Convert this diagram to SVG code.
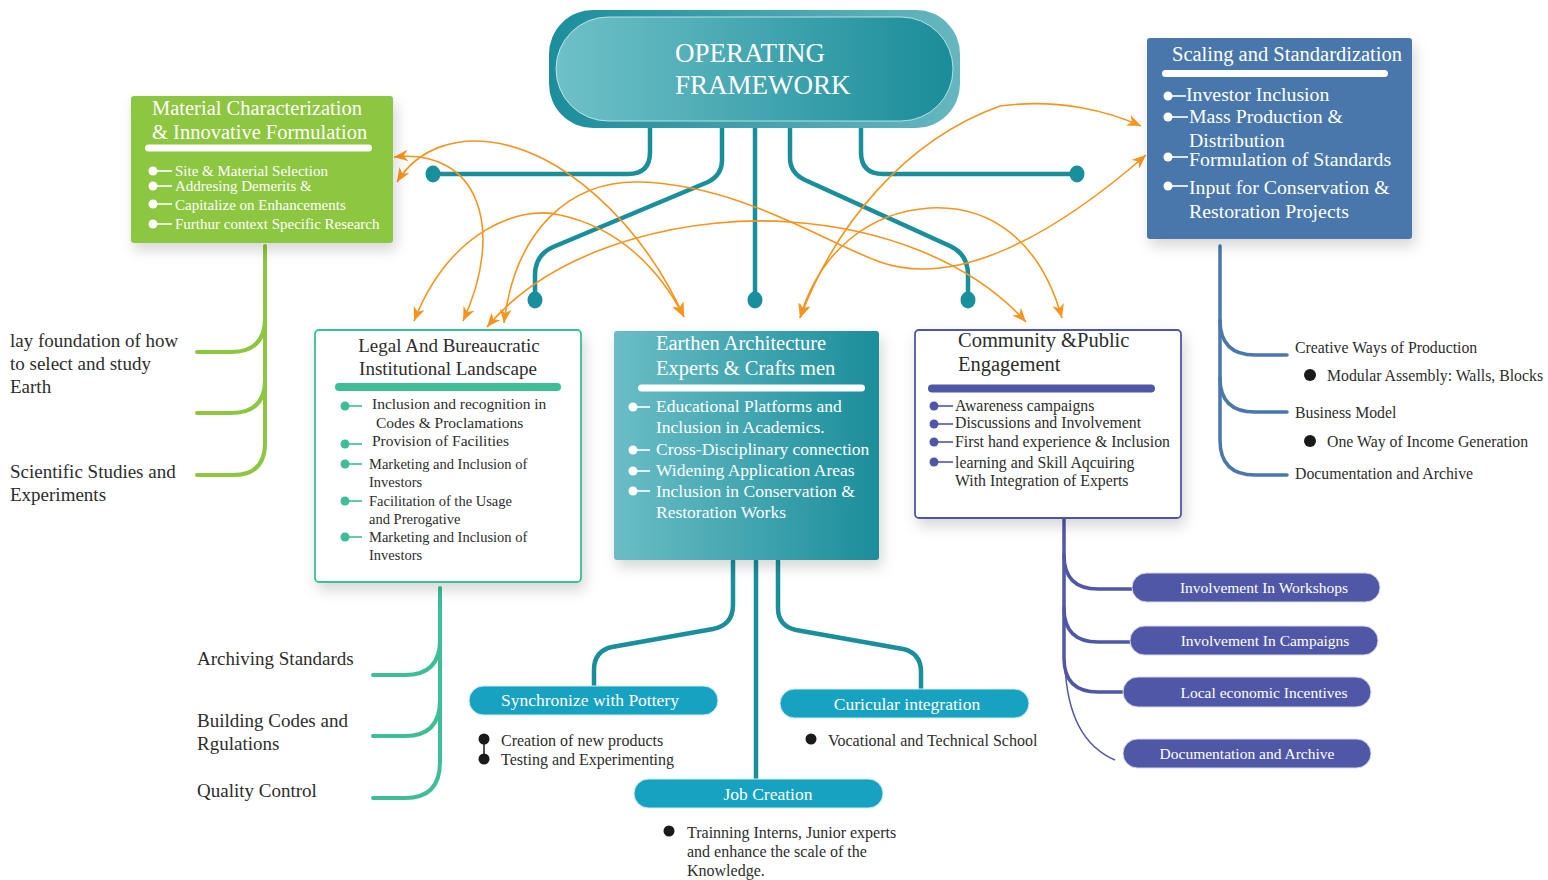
<svg xmlns="http://www.w3.org/2000/svg" width="1548" height="880" viewBox="0 0 1548 880">
<defs>
<linearGradient id="outerG" x1="0" y1="0" x2="1" y2="0"><stop offset="0" stop-color="#1C8E9B"/><stop offset="1" stop-color="#66B6BF"/></linearGradient>
<linearGradient id="innerG" x1="0" y1="0" x2="1" y2="0"><stop offset="0" stop-color="#6FC0C8"/><stop offset="1" stop-color="#1A8D99"/></linearGradient>
<linearGradient id="earthG" x1="0" y1="0" x2="1" y2="0"><stop offset="0" stop-color="#6BBDC6"/><stop offset="1" stop-color="#1B8E9A"/></linearGradient>
<filter id="sh" x="-10%" y="-10%" width="125%" height="140%"><feDropShadow dx="3" dy="7" stdDeviation="7" flood-color="#000" flood-opacity="0.16"/></filter>
<marker id="ah" viewBox="0 0 12 10" refX="12" refY="5" markerWidth="14" markerHeight="12" markerUnits="userSpaceOnUse" orient="auto-start-reverse"><path d="M0,0 L12,5 L0,10 L3.5,5 z" fill="#F7941E"/></marker>
</defs>
<style>
text{font-family:"Liberation Serif","Times New Roman",serif}
.w{fill:#ffffff}
.d{fill:#2d2d2d}
.teal{fill:none;stroke:#1A8F9C;stroke-width:4.5;stroke-linecap:round;stroke-linejoin:round}
.tdot{fill:#1A8F9C}
.grn{fill:none;stroke:#8DC63F;stroke-width:4;stroke-linecap:round}
.blu{fill:none;stroke:#4A77AC;stroke-width:3.5;stroke-linecap:round}
.lg{fill:none;stroke:#3DBD98;stroke-width:4;stroke-linecap:round}
.ind{fill:none;stroke:#4F57A6;stroke-width:3.5;stroke-linecap:round}
.org{fill:none;stroke:#F7941E;stroke-width:1.6;marker-start:url(#ah);marker-end:url(#ah)}
.wdash{stroke:#ffffff;stroke-width:1.6}
.gdash{stroke:#3DBD98;stroke-width:1.6}
.idash{stroke:#4F57A6;stroke-width:1.6}
.cyp{fill:#17A2C2;stroke:#cfeef5;stroke-width:1}
.inp{fill:#4F57A6;stroke:#d6d9ee;stroke-width:1}
.t15{font-size:15px}
.t16{font-size:16px}
.t175{font-size:17.5px}
.t19{font-size:19px}
.t20{font-size:20.5px}
</style>

<g id="connectors">
<path class="teal" d="M650,120 V152 Q650,174 628,174 H433"/>
<path class="teal" d="M722,120 V160 Q722,175 708,182 L553,247 Q535,255 535,275 V300"/>
<path class="teal" d="M755,120 V300"/>
<path class="teal" d="M790,120 V158 Q790,173 805,180 L950,246 Q968,254 968,275 V300"/>
<path class="teal" d="M861,120 V152 Q861,174 883,174 H1077"/>
<ellipse class="tdot" cx="433" cy="174" rx="7.5" ry="8.5"/>
<ellipse class="tdot" cx="1077" cy="174" rx="7.5" ry="8.5"/>
<ellipse class="tdot" cx="535" cy="300" rx="7.5" ry="8.5"/>
<ellipse class="tdot" cx="755" cy="300" rx="7.5" ry="8.5"/>
<ellipse class="tdot" cx="968" cy="300" rx="7.5" ry="8.5"/>
<path class="grn" d="M265,246 V443 Q265,475 233,475 H197"/>
<path class="grn" d="M265,318 Q265,352 231,352 H197"/>
<path class="grn" d="M265,380 Q265,413 231,413 H197"/>
<path class="blu" d="M1220,246 V440 Q1220,475 1255,475 H1287"/>
<path class="blu" d="M1220,320 Q1220,355 1255,355 H1287"/>
<path class="blu" d="M1220,378 Q1220,412 1255,412 H1287"/>
<path class="lg" d="M440,588 V762 Q440,798 405,798 H373"/>
<path class="lg" d="M440,640 Q440,675 405,675 H373"/>
<path class="lg" d="M440,700 Q440,736 405,736 H373"/>
<path class="ind" d="M1064,518 V658 Q1064,692 1098,692 H1123"/>
<path class="ind" d="M1064,555 Q1064,589 1098,589 H1132"/>
<path class="ind" d="M1064,608 Q1064,642 1098,642 H1130"/>
<path fill="none" stroke="#4F57A6" stroke-width="1.5" d="M1065,665 Q1068,740 1115,760"/>
<path class="teal" d="M733,561 V605 Q733,625 713,629 L612,647 Q594,651 594,670 V687"/>
<path class="teal" d="M756,561 V779"/>
<path class="teal" d="M778,561 V608 Q778,626 796,630 L903,649 Q921,653 921,672 V689"/>
<path class="org" d="M394,157 C480,148 505,230 463,321"/>
<path class="org" d="M397,182 C420,145 460,138 490,142 C560,150 640,220 684,317"/>
<path class="org" d="M414,321 C450,230 520,205 560,215 C620,228 660,270 684,317"/>
<path class="org" d="M504,323 C515,230 570,180 640,182 C740,185 820,240 880,262 C960,290 1060,230 1146,155"/>
<path class="org" d="M487,327 C560,240 700,215 790,222 C880,228 970,260 1026,322"/>
<path class="org" d="M800,318 C835,225 905,140 1000,106 C1060,98 1110,112 1141,126"/>
<path class="org" d="M1062,318 C1040,240 990,205 930,208 C870,212 820,250 800,318"/>
</g>

<g id="framework">
<rect x="549" y="10" width="411" height="118" rx="44" fill="url(#outerG)"/>
<rect x="556" y="17" width="397" height="104" rx="52" fill="url(#innerG)" stroke="#d8eef0" stroke-opacity="0.8" stroke-width="1"/>
<text class="w" x="675" y="62" font-size="27">OPERATING</text>
<text class="w" x="675" y="94" font-size="27">FRAMEWORK</text>
</g>

<g id="material">
<rect x="131" y="96" width="262" height="147" rx="3" fill="#8DC63F" filter="url(#sh)"/>
<text class="w t20" x="152" y="115">Material Characterization</text>
<text class="w t20" x="152" y="139">&amp; Innovative Formulation</text>
<rect x="145" y="144.5" width="227" height="7" rx="3.5" fill="#fff"/>
<g class="w t15">
<circle cx="153" cy="171" r="4.5"/><line class="wdash" x1="156" y1="171" x2="172" y2="171"/>
<text x="175" y="176">Site &amp; Material Selection</text>
<circle cx="153" cy="186" r="4.5"/><line class="wdash" x1="156" y1="186" x2="172" y2="186"/>
<text x="175" y="191">Addresing Demerits &amp;</text>
<circle cx="153" cy="204" r="4.5"/><line class="wdash" x1="156" y1="204" x2="172" y2="204"/>
<text x="175" y="210">Capitalize on Enhancements</text>
<circle cx="153" cy="224" r="4.5"/><line class="wdash" x1="156" y1="224" x2="172" y2="224"/>
<text x="175" y="229">Furthur context Specific Research</text>
</g>
</g>

<g id="scaling">
<rect x="1147" y="38" width="265" height="201" rx="3" fill="#4A77AC" filter="url(#sh)"/>
<text class="w t20" x="1172" y="61">Scaling and Standardization</text>
<rect x="1162" y="70" width="226" height="7" rx="3.5" fill="#fff"/>
<g class="w" font-size="19.8">
<circle cx="1168" cy="96" r="4.5"/><line class="wdash" x1="1171" y1="96" x2="1186" y2="96"/>
<text x="1186" y="101">Investor Inclusion</text>
<circle cx="1168" cy="117" r="4.5"/><line class="wdash" x1="1171" y1="117" x2="1188" y2="117"/>
<text x="1189" y="123">Mass Production &amp;</text>
<text x="1189" y="147">Distribution</text>
<circle cx="1168" cy="157" r="4.5"/><line class="wdash" x1="1171" y1="157" x2="1188" y2="157"/>
<text x="1189" y="166">Formulation of Standards</text>
<circle cx="1168" cy="186" r="4.5"/><line class="wdash" x1="1171" y1="186" x2="1188" y2="186"/>
<text x="1189" y="194">Input for Conservation &amp;</text>
<text x="1189" y="218">Restoration Projects</text>
</g>
</g>

<g id="legal">
<rect x="315" y="330" width="266" height="252" rx="4" fill="#fff" stroke="#3DBD98" stroke-width="1.8" filter="url(#sh)"/>
<text class="d t19" x="449" y="352" text-anchor="middle">Legal And Bureaucratic</text>
<text class="d t19" x="448" y="375" text-anchor="middle">Institutional Landscape</text>
<rect x="335" y="383" width="226" height="8" rx="4" fill="#3DBD98"/>
<g class="d">
<circle cx="345" cy="406" r="4.5" fill="#3DBD98"/><line class="gdash" x1="348" y1="406" x2="362" y2="406"/>
<text x="372" y="409" font-size="15.5">Inclusion and recognition in</text>
<text x="376" y="428" font-size="15.5">Codes &amp; Proclamations</text>
<circle cx="345" cy="444" r="4.5" fill="#3DBD98"/><line class="gdash" x1="348" y1="444" x2="362" y2="444"/>
<text x="372" y="446" font-size="15.5">Provision of Facilities</text>
<circle cx="345" cy="464" r="4.5" fill="#3DBD98"/><line class="gdash" x1="348" y1="464" x2="362" y2="464"/>
<text x="369" y="469" font-size="14.5">Marketing and Inclusion of</text>
<text x="369" y="487" font-size="14.5">Investors</text>
<circle cx="345" cy="501" r="4.5" fill="#3DBD98"/><line class="gdash" x1="348" y1="501" x2="362" y2="501"/>
<text x="369" y="506" font-size="14.5">Facilitation of the Usage</text>
<text x="369" y="524" font-size="14.5">and Prerogative</text>
<circle cx="345" cy="537" r="4.5" fill="#3DBD98"/><line class="gdash" x1="348" y1="537" x2="362" y2="537"/>
<text x="369" y="542" font-size="14.5">Marketing and Inclusion of</text>
<text x="369" y="560" font-size="14.5">Investors</text>
</g>
</g>

<g id="earthen">
<rect x="614" y="331" width="265" height="229" rx="3" fill="url(#earthG)" filter="url(#sh)"/>
<text class="w t20" x="656" y="350">Earthen Architecture</text>
<text class="w t20" x="656" y="375">Experts &amp; Crafts men</text>
<rect x="638" y="384.5" width="227" height="7" rx="3.5" fill="#fff"/>
<g class="w t175">
<circle cx="633" cy="407" r="4.5"/><line class="wdash" x1="636" y1="407" x2="650" y2="407"/>
<text x="656" y="412">Educational Platforms and</text>
<text x="656" y="433">Inclusion in Academics.</text>
<circle cx="633" cy="450" r="4.5"/><line class="wdash" x1="636" y1="450" x2="650" y2="450"/>
<text x="656" y="455">Cross-Disciplinary connection</text>
<circle cx="633" cy="471" r="4.5"/><line class="wdash" x1="636" y1="471" x2="650" y2="471"/>
<text x="656" y="476">Widening Application Areas</text>
<circle cx="633" cy="491" r="4.5"/><line class="wdash" x1="636" y1="491" x2="650" y2="491"/>
<text x="656" y="497">Inclusion in Conservation &amp;</text>
<text x="656" y="518">Restoration Works</text>
</g>
</g>

<g id="community">
<rect x="915" y="330" width="266" height="188" rx="4" fill="#fff" stroke="#4F57A6" stroke-width="1.8" filter="url(#sh)"/>
<text class="d t20" x="958" y="347">Community &amp;Public</text>
<text class="d t20" x="958" y="371">Engagement</text>
<rect x="928" y="384.5" width="227" height="8" rx="4" fill="#4F57A6"/>
<g class="d" font-size="15.8">
<circle cx="934" cy="406" r="4.5" fill="#4F57A6"/><line class="idash" x1="937" y1="406" x2="953" y2="406"/>
<text x="955" y="411">Awareness campaigns</text>
<circle cx="934" cy="424" r="4.5" fill="#4F57A6"/><line class="idash" x1="937" y1="424" x2="953" y2="424"/>
<text x="955" y="428">Discussions and Involvement</text>
<circle cx="934" cy="442" r="4.5" fill="#4F57A6"/><line class="idash" x1="937" y1="442" x2="953" y2="442"/>
<text x="955" y="447">First hand experience &amp; Inclusion</text>
<circle cx="934" cy="462" r="4.5" fill="#4F57A6"/><line class="idash" x1="937" y1="462" x2="953" y2="462"/>
<text x="955" y="468">learning and Skill Aqcuiring</text>
<text x="955" y="486">With Integration of Experts</text>
</g>
</g>

<g id="material-notes" class="d t19">
<text x="10" y="347">lay foundation of how</text>
<text x="10" y="370">to select and study</text>
<text x="10" y="393">Earth</text>
<text x="10" y="478">Scientific Studies and</text>
<text x="10" y="501">Experiments</text>
</g>

<g id="scaling-notes" class="d" font-size="15.8">
<text x="1295" y="353">Creative Ways of Production</text>
<circle cx="1310" cy="375" r="6" fill="#1a1a1a"/>
<text x="1327" y="381">Modular Assembly: Walls, Blocks</text>
<text x="1295" y="418">Business Model</text>
<circle cx="1310" cy="441" r="6" fill="#1a1a1a"/>
<text x="1327" y="447">One Way of Income Generation</text>
<text x="1295" y="479">Documentation and Archive</text>
</g>

<g id="legal-notes" class="d t19">
<text x="197" y="665">Archiving Standards</text>
<text x="197" y="727">Building Codes and</text>
<text x="197" y="750">Rgulations</text>
<text x="197" y="797">Quality Control</text>
</g>

<g id="pottery">
<rect class="cyp" x="469" y="686" width="249" height="29" rx="14.5"/>
<text class="w t175" x="590" y="706" text-anchor="middle">Synchronize with Pottery</text>
<line x1="484" y1="739" x2="484" y2="759" stroke="#1a1a1a" stroke-width="1.5"/>
<circle cx="484" cy="739" r="5.5" fill="#1a1a1a"/>
<circle cx="484" cy="759" r="5.5" fill="#1a1a1a"/>
<text class="d t16" x="501" y="746">Creation of new products</text>
<text class="d t16" x="501" y="765">Testing and Experimenting</text>
</g>

<g id="curricular">
<rect class="cyp" x="780" y="689" width="249" height="29" rx="14.5"/>
<text class="w t175" x="907" y="710" text-anchor="middle">Curicular integration</text>
<circle cx="811" cy="739" r="5.5" fill="#1a1a1a"/>
<text class="d t16" x="828" y="746">Vocational and Technical School</text>
</g>

<g id="jobs">
<rect class="cyp" x="634" y="779" width="249" height="29" rx="14.5"/>
<text class="w t175" x="768" y="800" text-anchor="middle">Job Creation</text>
<circle cx="669" cy="831" r="5.5" fill="#1a1a1a"/>
<text class="d t16" x="687" y="838">Trainning Interns, Junior experts</text>
<text class="d t16" x="687" y="857">and enhance the scale of the</text>
<text class="d t16" x="687" y="876">Knowledge.</text>
</g>

<g id="workshops">
<rect class="inp" x="1132" y="573" width="248" height="29" rx="14.5"/>
<text class="w" x="1264" y="593" font-size="15.5" text-anchor="middle">Involvement In Workshops</text>
</g>
<g id="campaigns">
<rect class="inp" x="1130" y="626" width="248" height="29" rx="14.5"/>
<text class="w" x="1265" y="646" font-size="15.5" text-anchor="middle">Involvement In Campaigns</text>
</g>
<g id="incentives">
<rect class="inp" x="1123" y="677" width="248" height="30" rx="15"/>
<text class="w" x="1264" y="698" font-size="15.5" text-anchor="middle">Local economic Incentives</text>
</g>
<g id="archive">
<rect class="inp" x="1123" y="739" width="248" height="29" rx="14.5"/>
<text class="w" x="1247" y="759" font-size="15.5" text-anchor="middle">Documentation and Archive</text>
</g>
</svg>
